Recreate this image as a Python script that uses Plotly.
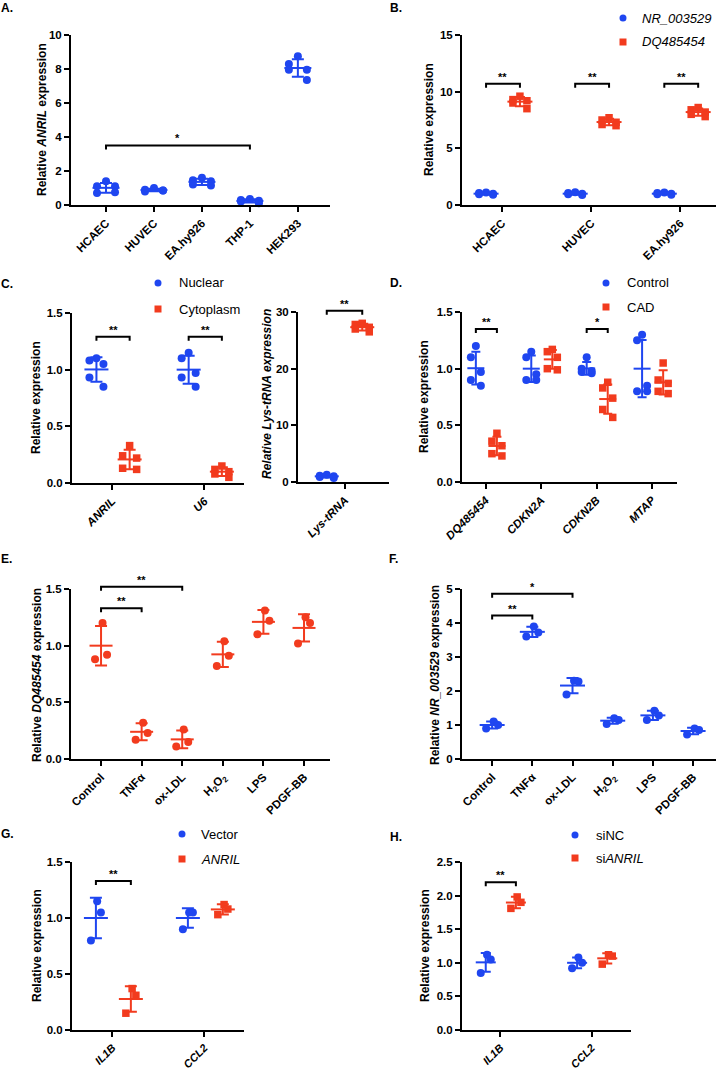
import numpy as np
import plotly.graph_objects as go

W, H = 726, 1071
BLUE = '#1f46f0'
RED = '#f23b1e'
FONT = 'Liberation Sans, Arial, Helvetica, sans-serif'

# ---------------- data ----------------
# A
a_categories = ['HCAEC', 'HUVEC', 'EA.hy926', 'THP-1', 'HEK293']
a_anril = [[1.40, 1.10, 1.10, 0.70, 0.75],
           [1.00, 0.90, 0.85, 0.80, 0.85],
           [1.60, 1.45, 1.40, 1.20, 1.15],
           [0.35, 0.30, 0.25, 0.20, 0.10],
           [8.75, 8.30, 7.95, 7.95, 7.35]]
a_yticks = [0, 2, 4, 6, 8, 10]

# B
b_categories = ['HCAEC', 'HUVEC', 'EA.hy926']
b_nr003529 = [[1.10, 1.05, 1.00, 0.95, 0.90],
              [1.12, 1.05, 1.00, 0.95, 0.88],
              [1.10, 1.05, 1.00, 0.95, 0.90]]
b_dq485454 = [[9.60, 9.30, 9.20, 9.00, 8.50],
              [7.70, 7.50, 7.30, 7.10, 7.00],
              [8.60, 8.40, 8.20, 8.00, 7.80]]
b_yticks = [0, 5, 10, 15]

# C
c_categories = ['<i>ANRIL</i>', '<i>U6</i>']
c_nuclear = [[1.10, 1.08, 1.05, 0.93, 0.85],
             [1.15, 1.10, 0.97, 0.93, 0.85]]
c_cytoplasm = [[0.33, 0.24, 0.22, 0.13, 0.12],
               [0.15, 0.12, 0.10, 0.08, 0.05]]
c_yticks = [0.0, 0.5, 1.0, 1.5]
c2_categories = ['<i>Lys-tRNA</i>']
c2_nuclear = [[1.3, 1.1, 1.0, 0.9, 0.7]]
c2_cytoplasm = [[28.0, 27.8, 27.3, 27.0, 26.5]]
c2_yticks = [0, 10, 20, 30]

# D
d_categories = ['<i>DQ485454</i>', '<i>CDKN2A</i>', '<i>CDKN2B</i>', '<i>MTAP</i>']
d_control = [[1.20, 1.10, 0.97, 0.90, 0.85],
             [1.15, 1.10, 0.95, 0.90, 0.90],
             [1.10, 1.00, 0.98, 0.97, 0.96],
             [1.30, 1.25, 0.85, 0.80, 0.80]]
d_cad = [[0.43, 0.36, 0.32, 0.25, 0.23],
         [1.17, 1.15, 1.10, 1.00, 0.99],
         [0.88, 0.83, 0.74, 0.64, 0.57],
         [1.05, 0.90, 0.87, 0.80, 0.78]]
d_yticks = [0.0, 0.5, 1.0, 1.5]

# E
e_categories = ['Control', 'TNFα', 'ox-LDL', 'H<sub>2</sub>O<sub>2</sub>', 'LPS', 'PDGF-BB']
e_dq485454 = [[1.20, 0.92, 0.88], [0.32, 0.23, 0.17], [0.26, 0.15, 0.11],
              [1.04, 0.91, 0.82], [1.31, 1.22, 1.10], [1.25, 1.20, 1.02]]
e_yticks = [0.0, 0.5, 1.0, 1.5]

# F
f_categories = e_categories
f_nr003529 = [[1.10, 1.00, 0.90], [3.90, 3.72, 3.60], [2.30, 2.28, 1.90],
              [1.20, 1.15, 1.03], [1.42, 1.28, 1.15], [0.90, 0.85, 0.72]]
f_yticks = [0, 1, 2, 3, 4, 5]

# G
g_categories = ['<i>IL1B</i>', '<i>CCL2</i>']
g_vector = [[1.15, 1.05, 0.80], [1.05, 1.05, 0.90]]
g_anril = [[0.37, 0.31, 0.15], [1.12, 1.08, 1.03]]
g_yticks = [0.0, 0.5, 1.0, 1.5]

# H
h_categories = g_categories
h_sinc = [[1.12, 1.05, 0.85], [1.08, 1.00, 0.92]]
h_sianril = [[1.98, 1.90, 1.81], [1.12, 1.10, 0.98]]
h_yticks = [0.0, 0.5, 1.0, 1.5, 2.0, 2.5]

# significance brackets
a_sig = [(0, 3, 3.5, '*')]
b_sig_level = 10.7
c_sig_level = 1.29
c2_sig_level = 30.2
d_sig = [(0, 1.35, '**'), (2, 1.35, '*')]
e_sig = [(0, 1, 1.33, '**'), (0, 2, 1.52, '**')]
f_sig = [(0, 1, 4.22, '**'), (0, 2, 4.86, '*')]
g_sig = [(0, 1.33, '**')]
h_sig = [(0, 2.2, '**')]

# ---------------- drawing helpers ----------------
fig = go.Figure()
panels = {}


def setup_axes(idx, box, xrange, ytop, yticks, yfmt, cats, xfont=11.5):
    l, r, t, b = box
    xd = [l / W, r / W]
    yd = [1 - b / H, 1 - t / H]
    sfx = '' if idx == 1 else str(idx)
    common = dict(showline=True, linewidth=2, linecolor='black', ticks='outside',
                  ticklen=5, tickwidth=2, tickcolor='black', showgrid=False,
                  zeroline=False, fixedrange=True, automargin=False)
    fig.update_layout(**{
        'xaxis' + sfx: dict(domain=xd, range=xrange, anchor='y' + sfx, tickmode='array',
                            tickvals=list(range(len(cats))), ticktext=cats, tickangle=-45,
                            tickfont=dict(family=FONT, size=xfont, color='black',
                                          weight='bold'),
                            **common),
        'yaxis' + sfx: dict(domain=yd, range=[0, ytop], anchor='x' + sfx, tickmode='array',
                            tickvals=yticks, ticktext=[yfmt.format(v) for v in yticks],
                            tickfont=dict(family=FONT, size=11.5, color='black',
                                          weight='bold'),
                            **common),
    })
    panels[idx] = dict(box=box, xrange=xrange, ytop=ytop, xid='x' + sfx, yid='y' + sfx)


JIT = {3: [0.25, 1, -1], 4: [-1, 1, -1, 1], 5: [0, -1, 1, -1, 1]}


def add_group(idx, xc, vals, color, symbol, jit_px, mean_px, cap_px):
    p = panels[idx]
    l, r, t, b = p['box']
    x0, x1 = p['xrange']
    upp = (x1 - x0) / (r - l)
    v = np.array(vals, float)
    xs = xc + np.array(JIT[len(v)]) * jit_px * upp
    fig.add_trace(go.Scatter(
        x=xs, y=v, mode='markers', xaxis=p['xid'], yaxis=p['yid'], cliponaxis=False,
        marker=dict(symbol=symbol, size=8 if symbol == 'circle' else 7.5, color=color,
                    line=dict(width=0)),
        hoverinfo='skip', showlegend=False))
    m = v.mean()
    sd = v.std(ddof=1)
    fig.add_trace(go.Scatter(
        x=[xc], y=[m], mode='markers', xaxis=p['xid'], yaxis=p['yid'], cliponaxis=False,
        marker=dict(symbol='line-ew', size=mean_px / 1.4, color=color,
                    line=dict(width=2, color=color)),
        error_y=dict(type='data', array=[sd], visible=True, color=color, thickness=2,
                     width=cap_px / 2),
        hoverinfo='skip', showlegend=False))


def to_px(idx, x, y):
    p = panels[idx]
    l, r, t, b = p['box']
    x0, x1 = p['xrange']
    px = l + (x - x0) / (x1 - x0) * (r - l)
    py = b - y / p['ytop'] * (b - t)
    return px, py


def add_bracket(idx, xa, xb, y, label, drop=4):
    ax, ay = to_px(idx, xa, y)
    bx, _ = to_px(idx, xb, y)
    path = (f'M {ax / W},{1 - (ay + drop) / H} L {ax / W},{1 - ay / H} '
            f'L {bx / W},{1 - ay / H} L {bx / W},{1 - (ay + drop) / H}')
    fig.add_shape(type='path', path=path, xref='paper', yref='paper',
                  line=dict(color='black', width=2))
    fig.add_annotation(x=(ax + bx) / 2 / W, y=1 - (ay - 7) / H, xref='paper', yref='paper',
                       text=label, showarrow=False, xanchor='center', yanchor='middle',
                       font=dict(family=FONT, size=11, color='black', weight='bold'))


def add_text(xp, yp, text, size=12, bold=True, angle=0, xanchor='center'):
    fig.add_annotation(x=xp / W, y=1 - yp / H, xref='paper', yref='paper', text=text,
                       showarrow=False, textangle=angle, xanchor=xanchor, yanchor='middle',
                       borderpad=0,
                       font=dict(family=FONT, size=size, color='black',
                                 weight='bold' if bold else 'normal'))


def add_legend(xm, yb, yr, tb, tr, xt):
    rad = 3.5
    fig.add_shape(type='circle', xref='paper', yref='paper',
                  x0=(xm - rad) / W, x1=(xm + rad) / W, y0=1 - (yb + rad) / H,
                  y1=1 - (yb - rad) / H, fillcolor=BLUE, line=dict(width=0))
    fig.add_shape(type='rect', xref='paper', yref='paper',
                  x0=(xm - rad) / W, x1=(xm + rad) / W, y0=1 - (yr + rad) / H,
                  y1=1 - (yr - rad) / H, fillcolor=RED, line=dict(width=0))
    add_text(xt, yb, tb, size=13, bold=False, xanchor='left')
    add_text(xt, yr, tr, size=13, bold=False, xanchor='left')


# ---------------- panels ----------------
# A
setup_axes(1, (71, 330, 35, 205), [-0.73, 4.67], 10, a_yticks, '{:g}', a_categories)
for i, vals in enumerate(a_anril):
    add_group(1, i, vals, BLUE, 'circle', 9, 27, 12)
for xa, xb, lv, lab in a_sig:
    add_bracket(1, xa, xb, lv, lab)

# B
setup_axes(2, (462, 716, 35, 205), [-0.45, 2.4], 15, b_yticks, '{:g}', b_categories)
for i in range(len(b_categories)):
    add_group(2, i - 0.18, b_nr003529[i], BLUE, 'circle', 7, 25, 10)
    add_group(2, i + 0.2, b_dq485454[i], RED, 'square', 7, 25, 10)
    add_bracket(2, i - 0.18, i + 0.2, b_sig_level, '**')
add_legend(623, 18, 42, '<i>NR_003529</i>', '<i>DQ485454</i>', 641)

# C left
setup_axes(3, (72, 244, 313, 483), [-0.435, 1.43], 1.5, c_yticks, '{:.1f}', c_categories)
for i in range(len(c_categories)):
    add_group(3, i - 0.17, c_nuclear[i], BLUE, 'circle', 7, 24, 12)
    add_group(3, i + 0.19, c_cytoplasm[i], RED, 'square', 7, 24, 12)
    add_bracket(3, i - 0.17, i + 0.19, c_sig_level, '**')
add_legend(158, 283, 309, 'Nuclear', 'Cytoplasm', 178)

# C right
setup_axes(4, (298, 389, 312, 482), [-0.516, 0.484], 30, c2_yticks, '{:g}', c2_categories)
add_group(4, -0.2, c2_nuclear[0], BLUE, 'circle', 7, 24, 12)
add_group(4, 0.19, c2_cytoplasm[0], RED, 'square', 7, 24, 12)
add_bracket(4, -0.2, 0.19, c2_sig_level, '**')

# D
setup_axes(5, (462, 677, 312, 482), [-0.43, 3.45], 1.5, d_yticks, '{:.1f}', d_categories)
for i in range(len(d_categories)):
    add_group(5, i - 0.18, d_control[i], BLUE, 'circle', 5, 17, 9)
    add_group(5, i + 0.2, d_cad[i], RED, 'square', 5, 17, 9)
for ci, lv, lab in d_sig:
    add_bracket(5, ci - 0.18, ci + 0.2, lv, lab)
add_legend(606, 283, 307, 'Control', 'CAD', 626)

# E
setup_axes(6, (71, 330, 589, 759), [-0.74, 5.64], 1.5, e_yticks, '{:.1f}', e_categories)
for i, vals in enumerate(e_dq485454):
    add_group(6, i, vals, RED, 'circle', 6, 23, 12)
for xa, xb, lv, lab in e_sig:
    add_bracket(6, xa, xb, lv, lab)

# F
setup_axes(7, (462, 716, 589, 759), [-0.75, 5.57], 5, f_yticks, '{:g}', f_categories)
for i, vals in enumerate(f_nr003529):
    add_group(7, i, vals, BLUE, 'circle', 6, 25, 12)
for xa, xb, lv, lab in f_sig:
    add_bracket(7, xa, xb, lv, lab)

# G
setup_axes(8, (72, 244, 862, 1030), [-0.44, 1.43], 1.5, g_yticks, '{:.1f}', g_categories,
           xfont=11)
for i in range(len(g_categories)):
    add_group(8, i - 0.18, g_vector[i], BLUE, 'circle', 5, 24, 12)
    add_group(8, i + 0.2, g_anril[i], RED, 'square', 5, 24, 12)
for ci, lv, lab in g_sig:
    add_bracket(8, ci - 0.18, ci + 0.2, lv, lab)
add_legend(182, 834, 859, 'Vector', '<i>ANRIL</i>', 200)

# H
setup_axes(9, (462, 631, 862, 1030), [-0.42, 1.43], 2.5, h_yticks, '{:.1f}', h_categories,
           xfont=11)
for i in range(len(h_categories)):
    add_group(9, i - 0.16, h_sinc[i], BLUE, 'circle', 5, 20, 10)
    add_group(9, i + 0.17, h_sianril[i], RED, 'square', 5, 20, 10)
for ci, lv, lab in h_sig:
    add_bracket(9, ci - 0.16, ci + 0.17, lv, lab)
add_legend(575, 835, 858, 'siNC', 'si<i>ANRIL</i>', 595)

# axis titles
add_text(42, 120, 'Relative <i>ANRIL</i> expression', angle=-90)
add_text(429, 120, 'Relative expression', angle=-90)
add_text(36, 398, 'Relative expression', angle=-90)
add_text(267, 394, '<i>Relative Lys-tRNA expression</i>', angle=-90)
add_text(424, 397, 'Relative expression', angle=-90)
add_text(37, 675, 'Relative <i>DQ485454</i> expression', angle=-90)
add_text(435, 675, 'Relative <i>NR_003529</i> expression', angle=-90)
add_text(37, 946, 'Relative expression', angle=-90)
add_text(425, 946, 'Relative expression', angle=-90)

# panel letters
for lx, ly, lt in [(0, 8, 'A.'), (389, 8, 'B.'), (0, 284, 'C.'), (389, 283, 'D.'),
                   (0, 559, 'E.'), (388, 559, 'F.'), (0, 834, 'G.'), (389, 837, 'H.')]:
    add_text(lx, ly, lt, size=12, bold=True, xanchor='left')

fig.update_layout(width=W, height=H, margin=dict(l=0, r=0, t=0, b=0, autoexpand=False),
                  paper_bgcolor='white', plot_bgcolor='rgba(0,0,0,0)', showlegend=False,
                  font=dict(family=FONT, color='black'))

fig.write_html('out.html', config={'displayModeBar': False, 'staticPlot': True},
               post_script="document.body.style.margin='0px';"
                           "document.body.style.overflow='hidden';")
